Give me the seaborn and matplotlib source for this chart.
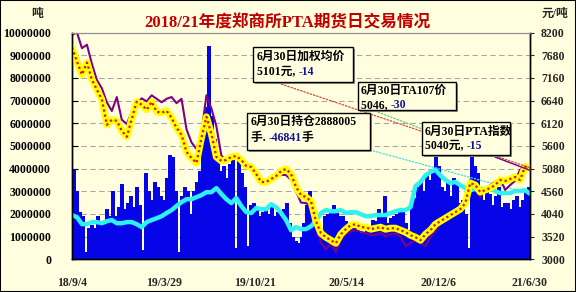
import numpy as np
import pandas as pd
import matplotlib
matplotlib.use("Agg")
import matplotlib.pyplot as plt
from matplotlib.patches import Rectangle
from matplotlib.text import Annotation
import seaborn as sns

# ---------------- data ----------------
title = "2018/21年度郑商所PTA期货日交易情况"
x_labels = ["18/9/4", "19/3/29", "19/10/21", "20/5/14", "20/12/6", "21/6/30"]

# daily volume (million lots, left axis) - sampled bars
volume_m = [4.0, 3.0, 2.1, 1.9, 0.3, 1.4, 1.5, 1.4, 1.9, 1.5, 1.6, 2.2, 1.9, 3.0, 1.9, 2.3,
            3.3, 2.2, 2.5, 2.8, 2.3, 3.2, 2.4, 0.4, 3.8, 3.0, 2.6, 3.4, 3.2, 2.8, 2.6, 3.6,
            4.6, 4.5, 3.0, 0.3, 2.8, 3.2, 3.0, 2.0, 3.0, 3.4, 3.9, 5.4, 6.7, 9.4, 6.3, 5.3,
            4.4, 3.9, 4.1, 3.6, 4.2, 4.4, 0.5, 4.5, 3.8, 3.2, 0.6, 2.4, 2.5, 2.2, 1.9, 2.1,
            2.2, 2.0, 2.4, 1.9, 2.1, 1.9, 2.2, 2.5, 1.6, 1.0, 0.8, 0.7, 1.0, 1.6, 2.4, 3.0,
            2.4, 1.9, 1.5, 1.3, 1.9, 2.0, 2.2, 2.4, 2.1, 1.9, 1.9, 1.7, 1.6, 1.5, 1.4, 1.3,
            1.15, 1.2, 1.3, 1.4, 1.75, 1.7, 2.2, 1.9, 2.8, 1.6, 1.8, 1.9, 2.0, 2.2, 2.2, 1.6,
            1.3, 2.4, 2.7, 3.2, 3.5, 3.0, 3.7, 3.5, 3.8, 4.8, 4.1, 3.2, 3.0, 3.4, 2.8, 3.6,
            3.3, 2.5, 2.6, 2.0, 0.5, 5.3, 4.1, 3.8, 2.9, 2.6, 3.0, 2.9, 2.4, 2.8, 3.2, 2.3,
            2.5, 2.5, 2.2, 2.6, 2.8, 2.3, 2.6, 3.0, 3.2]

# open interest (million lots, left axis)
open_interest_m = [1.95, 1.86, 1.55, 1.55, 1.64, 1.64, 1.59, 1.68, 1.73, 1.59, 1.59, 1.64,
                   1.64, 1.55, 1.42, 1.64, 1.73, 1.81, 1.90, 2.04, 2.17, 2.35, 2.52, 2.65,
                   2.65, 2.74, 2.83, 2.96, 2.96, 3.14, 2.88, 2.65, 2.48, 2.70, 2.35, 2.08,
                   2.04, 2.26, 2.21, 2.21, 2.43, 2.30, 2.04, 1.73, 1.28, 1.42, 1.33, 1.33,
                   1.46, 1.68, 2.04, 2.17, 2.12, 2.12, 2.17, 2.04, 2.08, 2.08, 1.99, 1.90,
                   1.90, 1.95, 1.95, 1.95, 2.04, 2.12, 2.17, 2.17, 2.30, 3.23, 3.40, 3.70,
                   3.85, 3.95, 3.70, 3.50, 3.36, 3.41, 3.27, 3.14, 3.05, 3.10, 3.10, 3.10,
                   3.19, 3.01, 2.92, 2.92, 2.92, 3.01, 3.01, 3.05, 2.888005]

# weighted average price (yuan/ton, right axis)
weighted_price = [7855, 7533, 7234, 7510, 7119, 6889, 6658, 6083, 6198, 6175, 5945, 5807,
                  6221, 6613, 6544, 6429, 6613, 6383, 6359, 6405, 6244, 6014, 5853, 5462,
                  5324, 5209, 5784, 6267, 5876, 5347, 5255, 5278, 5347, 5370, 5278, 5140,
                  5117, 4956, 4772, 4772, 4841, 4910, 5025, 5071, 4956, 4657, 4473, 4427,
                  4335, 3874, 3598, 3506, 3437, 3368, 3575, 3690, 3782, 3805, 3736, 3736,
                  3690, 3713, 3736, 3690, 3713, 3713, 3667, 3621, 3552, 3506, 3437, 3575,
                  3667, 3805, 3874, 3943, 4012, 4081, 4150, 4289, 4749, 4703, 4542, 4588,
                  4634, 4703, 4818, 4795, 4841, 4887, 4818, 5120, 5101]

# PTA index (yuan/ton, right axis)
index_price = [8150, 8200, 7840, 7920, 7480, 7110, 6920, 6600, 6400, 6720, 6200, 6100,
               6380, 6580, 6690, 6620, 6760, 6680, 6600, 6680, 6720, 6580, 6680, 5980,
               5680, 5530, 5900, 6760, 6460, 6050, 5380, 5240, 5300, 5330, 5240, 5100,
               5080, 4930, 4730, 4740, 4790, 4860, 4940, 4930, 4820, 4560, 4300, 4290,
               4200, 3800, 3380, 3230, 3360, 3170, 3440, 3580, 3640, 3670, 3630, 3600,
               3550, 3560, 3620, 3520, 3580, 3590, 3520, 3300, 3380, 3430, 3370, 3300,
               3510, 3650, 3830, 3950, 3960, 4050, 4130, 4330, 4820, 4620, 4430, 4600,
               4700, 4780, 4860, 4590, 4700, 4800, 5050, 5120, 5040]

# ---------------- style ----------------
cream = "#FFFFE0"
sns.set_style("white")
cjk = ["Liberation Serif", "Noto Sans CJK SC", "DejaVu Sans"]
plt.rcParams["font.family"] = cjk
plt.rcParams["font.weight"] = "bold"

W, H = 576, 292
fig = plt.figure(figsize=(W / 100, H / 100), dpi=100, facecolor=cream)
L, R, T, B = 72, 530, 32.5, 259.3
ax = fig.add_axes([L / W, 1 - B / H, (R - L) / W, (B - T) / H])
ax.set_facecolor(cream)
ax2 = ax.twinx()

n = len(volume_m)
bar_color = "#0505E8"
df_bar = pd.DataFrame({"i": np.arange(n), "v": np.array(volume_m) * 1e6})
sns.barplot(data=df_bar, x="i", y="v", ax=ax, color=bar_color, saturation=1,
            width=1.0, linewidth=0.5, edgecolor=bar_color)
for p in ax.patches:
    p.set_antialiased(False)
ax.set_xlim(-0.5, n - 0.5)

def line_x(vals):
    return np.linspace(-0.5, n - 0.5, len(vals))

sns.lineplot(x=line_x(open_interest_m), y=np.array(open_interest_m) * 1e6, ax=ax,
             color="#2EF2F2", lw=3.2, sort=False, estimator=None)

sns.lineplot(x=line_x(index_price), y=index_price, ax=ax2, color="#800080", lw=1.5,
             sort=False, estimator=None)
sns.lineplot(x=line_x(weighted_price), y=weighted_price, ax=ax2, color="#FFFF00", lw=5,
             sort=False, estimator=None)
sns.lineplot(x=line_x(weighted_price), y=weighted_price, ax=ax2, color="#E01010", lw=1.6,
             sort=False, estimator=None, linestyle=(0, (1, 1.3)))

# axes
ax.set_ylim(0, 1e7)
ax.set_yticks(np.arange(0, 1e7 + 1, 1e6))
ax.set_yticklabels([f"{int(v)}" for v in np.arange(0, 1e7 + 1, 1e6)])
ax2.set_ylim(3000, 8200)
ax2.set_yticks(np.arange(3000, 8201, 520))
ax2.set_yticklabels([f"{v}" for v in np.arange(3000, 8201, 520)])
ax.set_xticks(np.linspace(-0.5, n - 0.5, len(x_labels)))
ax.set_xticklabels(x_labels)
ax.set_xlim(-0.5, n - 0.5)
for a in (ax, ax2):
    a.set_xlabel("")
    a.set_ylabel("")

ax.grid(axis="y", color="#A8A8A8", linestyle=(0, (5, 3)), lw=0.8)
ax.grid(axis="x", visible=False)
ax2.grid(False)
ax.set_axisbelow(True)

ax.tick_params(axis="y", direction="in", length=4, width=0.8, pad=15, labelsize=8.5,
               colors="black")
ax.tick_params(axis="x", length=0, pad=13, labelsize=8.5)
ax2.tick_params(axis="y", direction="out", length=3, width=0.8, pad=5, labelsize=8.5)
for a in (ax, ax2):
    for lab in a.get_xticklabels() + a.get_yticklabels():
        lab.set_fontweight("bold")
        lab.set_family(cjk)

for s in ("left", "bottom", "right"):
    for a in (ax, ax2):
        a.spines[s].set_color("black")
        a.spines[s].set_linewidth(1)
for a in (ax, ax2):
    a.spines["top"].set_color("#909090")
    a.spines["top"].set_linewidth(0.8)

# titles / units
fig.text(287 / W, 1 - 23.5 / H, title, ha="center", va="center", fontsize=12,
         fontweight="bold", color="#C00000", family=cjk)
fig.text(37 / W, 1 - 14 / H, "吨", ha="center", va="center", fontsize=8.5,
         fontweight="bold", family=cjk)
fig.text(555 / W, 1 - 14 / H, "元/吨", ha="center", va="center", fontsize=8.5,
         fontweight="bold", family=cjk)

# leader lines
last_x = n - 0.5
def leader(sx, sy, axis, yval, color, ls, lw=0.9):
    axis.annotate("", xy=(last_x, yval), xycoords="data",
                  xytext=(sx, H - sy), textcoords="figure pixels",
                  arrowprops=dict(arrowstyle="-", color=color, linestyle=ls, lw=lw,
                                  shrinkA=0, shrinkB=0),
                  annotation_clip=False)

leader(275, 82, ax2, weighted_price[-1], "#E04040", (0, (1.2, 1.5)))
leader(375, 111, ax2, 5046, "#60D060", (0, (1.2, 1.5)))
leader(370, 150, ax, open_interest_m[-1] * 1e6, "#40E0E0", (0, (1.2, 1.5)))
leader(495, 157, ax2, index_price[-1], "#800080", "-", 1.0)

# annotation boxes
def box(x0, y0, x1, y1, lines):
    fig.add_artist(Rectangle((x0 / W + 2 / W, 1 - y1 / H - 2 / H), (x1 - x0) / W, (y1 - y0) / H,
                             transform=fig.transFigure, fc="#909090", ec="none", zorder=4))
    fig.add_artist(Rectangle((x0 / W, 1 - y1 / H), (x1 - x0) / W, (y1 - y0) / H,
                             transform=fig.transFigure, fc=cream, ec="black", lw=1, zorder=5))
    for (tx, ty, segs) in lines:
        prev = None
        for s, c in segs:
            if prev is None:
                prev = fig.text(tx / W, 1 - ty / H, s, ha="left", va="center", fontsize=8.5,
                                fontweight="bold", color=c, family=cjk, zorder=6)
            else:
                a = Annotation(s, xy=(1, 0), xycoords=prev, ha="left", va="bottom",
                               fontsize=8.5, fontweight="bold", color=c, family=cjk,
                               annotation_clip=False)
                a.set_zorder(6)
                fig.add_artist(a)
                prev = a

blue = "#10109A"
box(253, 47, 353, 82, [(257, 57, [("6月30日加权均价", "black")]),
                       (257, 72, [("5101元, ", "black"), ("-14", blue)])])
box(358, 82, 456, 110, [(361, 91, [("6月30日TA107价", "black")]),
                        (361, 105, [("5046, ", "black"), ("-30", blue)])])
box(247, 113, 370, 150, [(251, 122, [("6月30日持仓2888005", "black")]),
                         (251, 138, [("手. ", "black"), ("-46841", blue), ("手", "black")])])
box(422, 122, 510, 155, [(425, 131.5, [("6月30日PTA指数", "black")]),
                         (425, 146, [("5040元, ", "black"), ("-15", blue)])])

# figure frame
fig.add_artist(Rectangle((0, 0), 1, 1, transform=fig.transFigure, fc="none",
                         ec="black", lw=1.5, zorder=10))

fig.savefig("out.png", dpi=100, facecolor=cream)
